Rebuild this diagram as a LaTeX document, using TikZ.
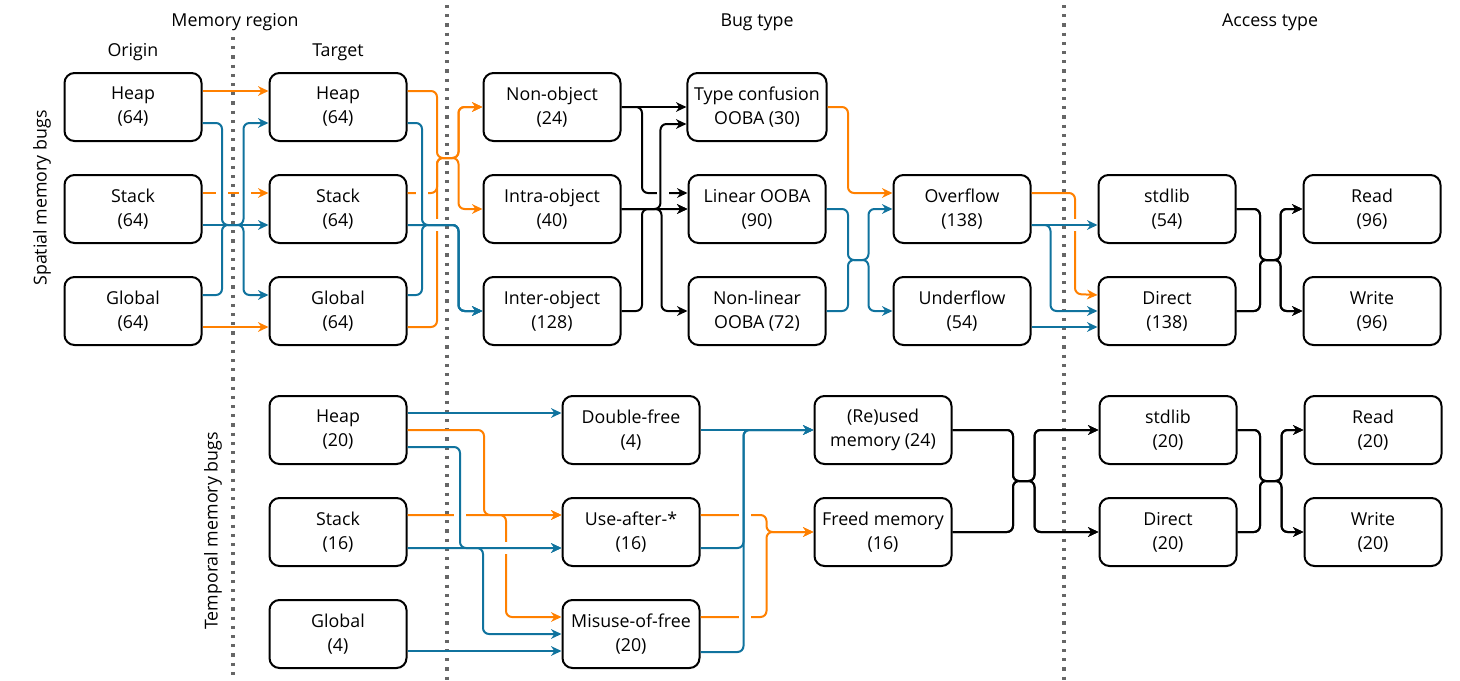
\documentclass[tikz,border=0pt]{standalone}
\usepackage{fontspec}
\setmainfont{Open Sans}
\usetikzlibrary{arrows.meta, positioning, calc}
\definecolor{orangeline}{HTML}{FF8000}
\definecolor{blueline}{HTML}{10739E}
\definecolor{sepgray}{HTML}{666666}
\newcommand{\boxfont}{\fontsize{8.9pt}{12pt}\selectfont}
\tikzset{node distance = {51pt and 102.5pt}, on grid,
         >= {Stealth[length = 5.2pt, width = 4.8pt, inset = 1.6pt]},
         box/.style = {draw, line width = 1pt, rounded corners = 5pt,
                       minimum width = 68.5pt, minimum height = 34pt,
                       align = center, font = \boxfont},
         heading/.style = {font = \boxfont},
         wire/.style = {line width = 1pt, rounded corners = 3pt, ->},
         orangewire/.style = {wire, draw = orangeline},
         bluewire/.style = {wire, draw = blueline},
         blackwire/.style = {wire, draw = black},
         separator/.style = {line width = 1.6pt, draw = sepgray,
                             dash pattern = on 1.6pt off 3pt},
         hole/.style = {fill = white}}

\begin{document}
\begin{tikzpicture}[x = 0.5pt, y = -0.5pt]
    \useasboundingbox (0,0) rectangle (1460,680);

    % column separators
    \draw[separator] (233,37) -- (233,680);
    \draw[separator] (447,5)  -- (447,680);
    \draw[separator] (1064,5) -- (1064,680);

    % headings
    \node[heading] (hmem)    at (235,22)  {Memory region};
    \node[heading] (horigin) at (133,52)  {Origin};
    \node[heading] (htarget) at (338,52)  {Target};
    \node[heading] (hbug)    at (757,22)  {Bug type};
    \node[heading] (haccess) at (1270,22) {Access type};
    \node[heading, rotate = 90] (lspatial)  at (42,198)  {Spatial memory bugs};
    \node[heading, rotate = 90] (ltemporal) at (213,531) {Temporal memory bugs};

    % spatial memory bugs
    \node[box] (oheap)   at (133,107)          {Heap\\(64)};
    \node[box] (ostack)  [below = of oheap]    {Stack\\(64)};
    \node[box] (oglobal) [below = of ostack]   {Global\\(64)};
    \node[box] (theap)   [right = of oheap]    {Heap\\(64)};
    \node[box] (tstack)  [below = of theap]    {Stack\\(64)};
    \node[box] (tglobal) [below = of tstack]   {Global\\(64)};
    \node[box] (nonobj)   at (552,107)          {Non-object\\(24)};
    \node[box] (intraobj) [below = of nonobj]   {Intra-object\\(40)};
    \node[box] (interobj) [below = of intraobj] {Inter-object\\(128)};
    \node[box] (typeconf)  [right = of nonobj]   {Type confusion\\OOBA (30)};
    \node[box] (linear)    [below = of typeconf] {Linear OOBA\\(90)};
    \node[box] (nonlinear) [below = of linear]   {Non-linear\\OOBA (72)};
    \node[box] (overflow)  [right = of linear]    {Overflow\\(138)};
    \node[box] (underflow) [below = of overflow]  {Underflow\\(54)};
    \node[box] (sstdlib)   [right = of overflow]  {stdlib\\(54)};
    \node[box] (sdirect)   [below = of sstdlib]   {Direct\\(138)};
    \node[box] (sread)     [right = of sstdlib]   {Read\\(96)};
    \node[box] (swrite)    [below = of sread]     {Write\\(96)};

    % temporal memory bugs
    \node[box] (hheap)   at (338,430)          {Heap\\(20)};
    \node[box] (hstack)  [below = of hheap]    {Stack\\(16)};
    \node[box] (hglobal) [below = of hstack]   {Global\\(4)};
    \node[box] (dfree)   at (631,430)          {Double-free\\(4)};
    \node[box] (uaf)     [below = of dfree]    {Use-after-*\\(16)};
    \node[box] (mof)     [below = of uaf]      {Misuse-of-free\\(20)};
    \node[box] (reused)  at (883,430)          {(Re)used\\memory (24)};
    \node[box] (freed)   [below = of reused]   {Freed memory\\(16)};
    \node[box] (tstdlib) at (1168,430)         {stdlib\\(20)};
    \node[box] (tdirect) [below = of tstdlib]  {Direct\\(20)};
    \node[box] (tread)   [right = of tstdlib]  {Read\\(20)};
    \node[box] (twrite)  [below = of tread]    {Write\\(20)};

    % lines that get jumped over
    \draw[orangewire] ($(oheap.east)+(0,-16)$)   -- ($(theap.west)+(0,-16)$);
    \draw[orangewire] ($(ostack.east)+(0,-16)$)  -- ($(tstack.west)+(0,-16)$);
    \draw[orangewire] ($(oglobal.east)+(0,16)$)  -- ($(tglobal.west)+(0,16)$);
    \draw[orangewire] ($(theap.east)+(0,-16)$)   -| (437,158) -| ($(nonobj.west)+(-24,0)$) -- (nonobj.west);
    \draw[orangewire] ($(tstack.east)+(0,-16)$)  -| (437,158) -| ($(intraobj.west)+(-24,0)$) -- (intraobj.west);
    \draw[orangewire] ($(tglobal.east)+(0,16)$)  -| (437,158) -| ($(nonobj.west)+(-24,0)$) -- (nonobj.west);
    \draw[blackwire]  (nonobj.east) -| (642,193) -- ($(linear.west)+(0,-16)$);
    \draw[orangewire] (typeconf.east) -| (848,193) -- ($(overflow.west)+(0,-16)$);
    \draw[orangewire] ($(overflow.east)+(0,-16)$) -| (1075,294) -- ($(sdirect.west)+(0,-16)$);
    \draw[orangewire] (hheap.east) -| (484,515) -- ($(uaf.west)+(0,-17)$);
    \draw[orangewire] ($(hstack.east)+(0,-17)$) -- ($(uaf.west)+(0,-17)$);
    \draw[orangewire] ($(hstack.east)+(0,-17)$) -| (506,617) -- ($(mof.west)+(0,-17)$);
    \draw[orangewire] ($(uaf.east)+(0,-17)$) -| ($(freed.west)+(-47,0)$) -- (freed.west);
    \draw[orangewire] ($(mof.east)+(0,-17)$) -| ($(freed.west)+(-47,0)$) -- (freed.west);

    % jumps
    \path[hole] (222,193) ++(-6,-3) rectangle ++(12,6);
    \path[hole] (245,193) ++(-6,-3) rectangle ++(12,6);
    \path[hole] (422,193) ++(-6,-3) rectangle ++(12,6);
    \path[hole] (437,225) ++(-3,-6) rectangle ++(6,12);
    \path[hole] (663,193) ++(-6,-3) rectangle ++(12,6);
    \path[hole] (1075,225) ++(-3,-6) rectangle ++(6,12);
    \path[hole] (460,515) ++(-6,-3) rectangle ++(12,6);
    \path[hole] (506,548) ++(-3,-6) rectangle ++(6,12);
    \path[hole] (745,515) ++(-6,-3) rectangle ++(12,6);
    \path[hole] (745,617) ++(-6,-3) rectangle ++(12,6);

    % origin -> target
    \draw[bluewire] ($(oheap.east)+(0,16)$)   -| (222,225) -| ($(tglobal.west)+(-25,-16)$) -- ($(tglobal.west)+(0,-16)$);
    \draw[bluewire] ($(ostack.east)+(0,16)$)  -- ($(tstack.west)+(0,16)$);
    \draw[bluewire] ($(oglobal.east)+(0,-16)$) -| (222,225) -| ($(theap.west)+(-25,16)$) -- ($(theap.west)+(0,16)$);

    % target -> bug type
    \draw[bluewire] ($(theap.east)+(0,16)$)   -| (422,225) -| ($(interobj.west)+(-24,0)$) -- (interobj.west);
    \draw[bluewire] ($(tstack.east)+(0,16)$)  -| ($(interobj.west)+(-24,0)$) -- (interobj.west);
    \draw[bluewire] ($(tglobal.east)+(0,-16)$) -| (422,225) -| ($(interobj.west)+(-24,0)$) -- (interobj.west);

    % bug type -> OOBA kind
    \draw[blackwire] (nonobj.east) -- (typeconf.west);
    \draw[blackwire] (intraobj.east) -| ($(typeconf.west)+(-26,17)$) -- ($(typeconf.west)+(0,17)$);
    \draw[blackwire] (intraobj.east) -- (linear.west);
    \draw[blackwire] (intraobj.east) -| ($(nonlinear.west)+(-26,0)$) -- (nonlinear.west);
    \draw[blackwire] (interobj.east) -| (642,209) -- (linear.west);

    % OOBA kind -> direction
    \draw[bluewire] (linear.east)    -| (848,260) -| ($(underflow.west)+(-24,0)$) -- (underflow.west);
    \draw[bluewire] (nonlinear.east) -| (848,260) -| ($(overflow.west)+(-24,0)$) -- (overflow.west);

    % direction -> access type
    \draw[bluewire] ($(overflow.east)+(0,16)$)  -- ($(sstdlib.west)+(0,16)$);
    \draw[bluewire] ($(overflow.east)+(0,16)$)  -| ($(sdirect.west)+(-47,0)$) -- (sdirect.west);
    \draw[bluewire] ($(underflow.east)+(0,16)$) -- ($(sdirect.west)+(0,16)$);
    \foreach \from in {sstdlib, sdirect}
        \foreach \to in {sread, swrite}
            \draw[blackwire] (\from.east) -| (1260,260) -| ($(\to.west)+(-22,0)$) -- (\to.west);

    % temporal: target -> bug type
    \draw[bluewire] ($(hheap.east)+(0,-17)$) -- ($(dfree.west)+(0,-17)$);
    \draw[bluewire] ($(hheap.east)+(0,17)$)  -| (460,548) -- ($(uaf.west)+(0,16)$);
    \draw[bluewire] ($(hstack.east)+(0,16)$) -- ($(uaf.west)+(0,16)$);
    \draw[bluewire] ($(hstack.east)+(0,16)$) -| (483,634) -- (mof.west);
    \draw[bluewire] ($(hglobal.east)+(0,17)$) -- ($(mof.west)+(0,17)$);

    % temporal: bug type -> memory
    \draw[bluewire] (dfree.east) -- (reused.west);
    \draw[bluewire] ($(uaf.east)+(0,16)$) -| ($(reused.west)+(-70,0)$) -- (reused.west);
    \draw[bluewire] ($(mof.east)+(0,18)$) -| ($(reused.west)+(-70,0)$) -- (reused.west);

    % temporal: memory -> access type
    \foreach \from in {reused, freed}
        \foreach \to in {tstdlib, tdirect}
            \draw[blackwire] (\from.east) -| (1013,481) -| ($(\to.west)+(-64,0)$) -- (\to.west);
    \foreach \from in {tstdlib, tdirect}
        \foreach \to in {tread, twrite}
            \draw[blackwire] (\from.east) -| (1260,481) -| ($(\to.west)+(-22,0)$) -- (\to.west);
\end{tikzpicture}
\end{document}
